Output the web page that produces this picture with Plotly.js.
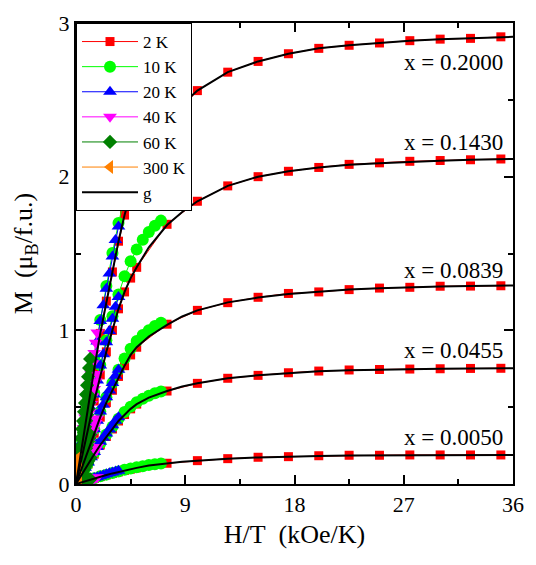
<!DOCTYPE html>
<html>
<head>
<meta charset="utf-8">
<script src="https://cdn.plot.ly/plotly-3.0.1.min.js"></script>
<style>
html,body{margin:0;padding:0;background:#fff;}
</style>
</head>
<body>
<div id="chart" style="width:536px;height:565px;"></div>
<script>
// Magnetic field steps (kOe) shared by every isotherm; plotted as H/T
const fieldKOe = [1,2,3,4,5,6,7,8,9,10,15,20,25,30,35,40,45,50,55,60,65,70];
const temperatures = [2, 10, 20, 40, 60, 300];
const tempLabels = ['2 K', '10 K', '20 K', '40 K', '60 K', '300 K'];
const concLabels = ['x = 0.2000', 'x = 0.1430', 'x = 0.0839', 'x = 0.0455', 'x = 0.0050'];

// M (muB/f.u.) for each concentration and temperature, at fieldKOe
const m2000_2K   = [0.26,0.50,0.75,0.98,1.19,1.38,1.58,1.75,1.89,2.01,2.34,2.56,2.68,2.75,2.80,2.835,2.855,2.87,2.885,2.895,2.90,2.91];
const m2000_10K  = [0.057,0.113,0.169,0.225,0.281,0.334,0.39,0.445,0.494,0.55,0.817,1.067,1.288,1.503,1.698,1.861,1.995,2.10,2.187,2.257,2.312,2.358];
const m2000_20K  = [0.028,0.055,0.083,0.111,0.139,0.166,0.194,0.221,0.249,0.276,0.410,0.541,0.673,0.803,0.928,1.061,1.163,1.271,1.370,1.480,1.588,1.675];
const m2000_40K  = [0.015,0.030,0.044,0.059,0.074,0.089,0.103,0.118,0.133,0.147,0.221,0.294,0.364,0.433,0.503,0.576,0.646,0.715,0.785,0.852,0.919,0.986];
const m2000_60K  = [0.012,0.024,0.036,0.048,0.060,0.072,0.084,0.096,0.108,0.120,0.180,0.240,0.299,0.358,0.410,0.470,0.527,0.583,0.642,0.698,0.755,0.814];
const m2000_300K = [0.0025,0.005,0.0075,0.01,0.0124,0.0149,0.0174,0.0199,0.0224,0.0249,0.0373,0.0497,0.0622,0.0746,0.087,0.0995,0.112,0.124,0.137,0.149,0.162,0.174];

const m1430_2K   = [0.19,0.36,0.54,0.71,0.86,1.0,1.14,1.25,1.34,1.41,1.69,1.84,1.94,2.0,2.035,2.06,2.08,2.09,2.1,2.105,2.11,2.115];
const m1430_10K  = [0.041,0.082,0.123,0.164,0.204,0.243,0.283,0.323,0.359,0.399,0.594,0.775,0.936,1.092,1.234,1.352,1.450,1.526,1.589,1.640,1.680,1.714];
const m1430_20K  = [0.020,0.040,0.060,0.080,0.101,0.120,0.141,0.161,0.181,0.201,0.298,0.393,0.489,0.583,0.674,0.771,0.845,0.923,0.995,1.076,1.154,1.217];
const m1430_40K  = [0.011,0.022,0.032,0.043,0.054,0.064,0.075,0.086,0.097,0.107,0.161,0.213,0.264,0.315,0.366,0.418,0.469,0.520,0.571,0.619,0.668,0.716];
const m1430_60K  = [0.0084,0.0168,0.0253,0.0337,0.0421,0.0505,0.059,0.0673,0.0758,0.0842,0.126,0.168,0.210,0.251,0.292,0.333,0.372,0.411,0.450,0.488,0.528,0.568];
const m1430_300K = [0.0017,0.0035,0.0052,0.007,0.0087,0.0105,0.0122,0.014,0.0157,0.0175,0.0262,0.035,0.0437,0.0524,0.0611,0.0699,0.0786,0.0873,0.096,0.1048,0.1135,0.1223];

const m0839_2K   = [0.11,0.22,0.33,0.435,0.53,0.61,0.70,0.77,0.84,0.89,1.04,1.13,1.18,1.215,1.24,1.25,1.265,1.275,1.28,1.287,1.288,1.29];
const m0839_10K  = [0.025,0.049,0.074,0.098,0.123,0.146,0.169,0.194,0.215,0.240,0.356,0.471,0.564,0.657,0.743,0.817,0.88,0.93,0.97,1.0,1.028,1.05];
const m0839_20K  = [0.012,0.025,0.037,0.049,0.062,0.074,0.086,0.098,0.110,0.123,0.182,0.240,0.299,0.356,0.412,0.471,0.516,0.564,0.608,0.657,0.704,0.743];
const m0839_40K  = [0.0064,0.0128,0.019,0.026,0.032,0.038,0.045,0.051,0.057,0.064,0.096,0.127,0.157,0.187,0.218,0.249,0.279,0.309,0.340,0.369,0.397,0.426];
const m0839_60K  = [0.0048,0.0095,0.0143,0.019,0.0238,0.0285,0.0333,0.038,0.0428,0.0475,0.071,0.095,0.118,0.141,0.164,0.187,0.209,0.232,0.254,0.276,0.298,0.320];
const m0839_300K = [0.001,0.002,0.003,0.004,0.005,0.0059,0.0069,0.0079,0.0089,0.0099,0.0149,0.0198,0.0248,0.0297,0.0347,0.0396,0.0446,0.0495,0.0545,0.0594,0.0644,0.0693];

const m0455_2K   = [0.066,0.13,0.194,0.254,0.309,0.358,0.41,0.452,0.489,0.52,0.605,0.655,0.688,0.707,0.724,0.735,0.742,0.745,0.748,0.75,0.752,0.753];
const m0455_10K  = [0.014,0.028,0.042,0.056,0.070,0.083,0.096,0.110,0.123,0.136,0.203,0.265,0.322,0.373,0.425,0.468,0.503,0.532,0.555,0.575,0.590,0.602];
const m0455_20K  = [0.007,0.014,0.022,0.029,0.036,0.043,0.050,0.057,0.064,0.072,0.106,0.140,0.174,0.208,0.240,0.275,0.301,0.329,0.355,0.383,0.411,0.434];
const m0455_40K  = [0.0036,0.0072,0.0108,0.0144,0.018,0.0216,0.025,0.0287,0.0323,0.0358,0.0537,0.0714,0.0884,0.105,0.122,0.140,0.157,0.174,0.191,0.207,0.223,0.240];
const m0455_60K  = [0.0026,0.0051,0.0077,0.0102,0.0128,0.0153,0.0179,0.0204,0.023,0.0255,0.038,0.051,0.063,0.076,0.088,0.101,0.113,0.125,0.137,0.149,0.161,0.173];
const m0455_300K = [0.0005,0.0011,0.0016,0.0021,0.0027,0.0032,0.0037,0.0043,0.0048,0.0053,0.008,0.0107,0.0133,0.016,0.0187,0.0213,0.024,0.0267,0.0293,0.032,0.0347,0.0373];

const m0050_2K   = [0.0125,0.025,0.036,0.048,0.059,0.069,0.079,0.089,0.097,0.105,0.135,0.152,0.165,0.174,0.178,0.184,0.187,0.187,0.189,0.189,0.189,0.189];
const m0050_10K  = [0.0026,0.0052,0.0077,0.0103,0.0129,0.0155,0.018,0.0205,0.023,0.0255,0.038,0.0497,0.061,0.072,0.082,0.092,0.101,0.109,0.116,0.123,0.129,0.134];
const m0050_20K  = [0.0013,0.0026,0.0039,0.0052,0.0065,0.0078,0.0091,0.0104,0.0117,0.013,0.0196,0.026,0.0323,0.0385,0.0444,0.0505,0.0564,0.064,0.07,0.075,0.081,0.087];
const m0050_40K  = [0.00065,0.0013,0.0019,0.0026,0.0032,0.0039,0.0045,0.0052,0.0058,0.0065,0.0097,0.0129,0.016,0.0192,0.0224,0.0256,0.0287,0.0318,0.0348,0.0378,0.0406,0.0434];
const m0050_60K  = [0.00044,0.00088,0.0013,0.0018,0.0022,0.0026,0.0031,0.0035,0.0039,0.0044,0.0066,0.0088,0.011,0.0131,0.0153,0.0175,0.0197,0.0219,0.024,0.0262,0.0283,0.0305];
const m0050_300K = [0.0001,0.0002,0.0003,0.0004,0.0004,0.0005,0.0006,0.0007,0.0008,0.0009,0.0013,0.0018,0.0022,0.0027,0.0031,0.0036,0.004,0.0045,0.0049,0.0054,0.0058,0.0063];

// fitted curves "g" (H/T in kOe/K, M in muB/f.u.)
const fitHT   = [0,0.5,1,1.5,2,2.5,3,3.5,4,4.5,5,6,7.5,8.75,10,12.5,15,17.5,20,22.5,25,27.5,30,32.5,35,36];
const fit2000 = [0,0.26,0.50,0.75,0.98,1.19,1.38,1.58,1.75,1.89,2.01,2.19,2.35,2.47,2.56,2.68,2.75,2.80,2.835,2.855,2.87,2.885,2.895,2.90,2.908,2.91];
const fit1430 = [0,0.19,0.36,0.54,0.71,0.86,1.0,1.14,1.25,1.34,1.41,1.54,1.685,1.77,1.84,1.94,2.0,2.035,2.06,2.078,2.088,2.097,2.104,2.11,2.113,2.115];
const fit0839 = [0,0.11,0.22,0.33,0.435,0.53,0.61,0.70,0.77,0.84,0.89,0.96,1.035,1.09,1.13,1.182,1.213,1.236,1.252,1.265,1.274,1.281,1.286,1.289,1.291,1.292];
const fit0455 = [0,0.066,0.13,0.194,0.254,0.309,0.358,0.41,0.452,0.489,0.52,0.562,0.605,0.635,0.655,0.688,0.708,0.723,0.734,0.741,0.745,0.748,0.75,0.752,0.753,0.753];
const fit0050 = [0,0.0125,0.025,0.036,0.048,0.059,0.069,0.079,0.089,0.097,0.105,0.12,0.135,0.145,0.152,0.165,0.173,0.179,0.183,0.186,0.187,0.188,0.189,0.189,0.189,0.189];

const seriesByTemp = [
  [m2000_2K,   m1430_2K,   m0839_2K,   m0455_2K,   m0050_2K],
  [m2000_10K,  m1430_10K,  m0839_10K,  m0455_10K,  m0050_10K],
  [m2000_20K,  m1430_20K,  m0839_20K,  m0455_20K,  m0050_20K],
  [m2000_40K,  m1430_40K,  m0839_40K,  m0455_40K,  m0050_40K],
  [m2000_60K,  m1430_60K,  m0839_60K,  m0455_60K,  m0050_60K],
  [m2000_300K, m1430_300K, m0839_300K, m0455_300K, m0050_300K]
];
const fits = [fit2000, fit1430, fit0839, fit0455, fit0050];

const SERIF = "Liberation Serif";

const styles = [
  {color:'#FF0000', symbol:'square',        size:9},
  {color:'#00FF00', symbol:'circle',        size:12},
  {color:'#0000FF', symbol:'triangle-up',   size:12},
  {color:'#FF00FF', symbol:'triangle-down', size:12},
  {color:'#008000', symbol:'diamond',       size:11},
  {color:'#FF8000', symbol:'triangle-left', size:12}
];

const traces = [];
temperatures.forEach((T, ti) => {
  const hOverT = fieldKOe.map(H => H / T);
  seriesByTemp[ti].forEach((m, ci) => {
    traces.push({
      type:'scatter', mode:'lines+markers',
      x: hOverT, y: m,
      name: tempLabels[ti], legendgroup: tempLabels[ti],
      showlegend: ci === 0,
      line:{color:styles[ti].color, width:1},
      marker:{color:styles[ti].color, symbol:styles[ti].symbol, size:styles[ti].size, line:{width:0}},
      hoverinfo:'skip'
    });
  });
});
fits.forEach((f, ci) => {
  traces.push({
    type:'scatter', mode:'lines',
    x: fitHT, y: f,
    name:'g', legendgroup:'g', showlegend: ci === 0,
    line:{color:'#000000', width:2},
    hoverinfo:'skip'
  });
});

const labelY = [2.74, 2.225, 1.39, 0.872, 0.30];
const annotations = concLabels.map((t, i) => ({
  x: 35.3, y: labelY[i], xref:'x', yref:'y', text: t,
  showarrow:false, xanchor:'right', yanchor:'middle',
  font:{family:SERIF, size:23, color:'#000'}
}));

const axisCommon = {
  ticks:'inside', ticklen:9, tickwidth:2, tickcolor:'#000',
  showline:true, linewidth:2, linecolor:'#000', mirror:'ticks',
  showgrid:false, zeroline:false,
  tickfont:{family:SERIF, size:22, color:'#000'}
};

const layout = {
  width:536, height:565,
  margin:{l:76, r:23, t:23, b:81},
  paper_bgcolor:'#fff', plot_bgcolor:'#fff',
  font:{family:SERIF, color:'#000', size:20},
  showlegend:true,
  legend:{x:0, y:1, xanchor:'left', yanchor:'top', bgcolor:'#fff',
          bordercolor:'#000', borderwidth:1, font:{family:SERIF, size:17, color:'#000'},
          itemwidth:56, tracegroupgap:0},
  xaxis: Object.assign({}, axisCommon, {
    range:[0,36], tickmode:'array', tickvals:[0,9,18,27,36],
    minor:{tickmode:'array', tickvals:[4.5,13.5,22.5,31.5], ticks:'inside', ticklen:5, tickwidth:2, tickcolor:'#000', showgrid:false},
    title:{text:'H/T\u00A0\u00A0(kOe/K)', font:{family:SERIF, size:26, color:'#000'}, standoff:8}
  }),
  yaxis: Object.assign({}, axisCommon, {
    range:[0,3], tickmode:'array', tickvals:[0,1,2,3],
    minor:{tickmode:'array', tickvals:[0.5,1.5,2.5], ticks:'inside', ticklen:5, tickwidth:2, tickcolor:'#000', showgrid:false},
    title:{text:'M\u00A0\u00A0(\u03BC<sub>B</sub>/f.u.)', font:{family:SERIF, size:26, color:'#000'}, standoff:18}
  }),
  annotations: annotations
};

Plotly.newPlot('chart', traces, layout, {staticPlot:true, displayModeBar:false});
</script>
</body>
</html>
